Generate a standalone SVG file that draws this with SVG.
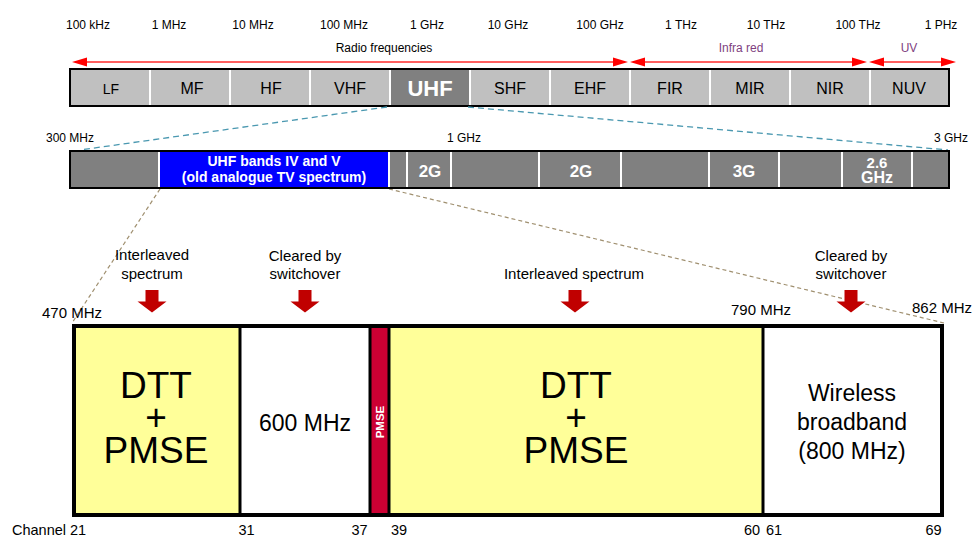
<svg xmlns="http://www.w3.org/2000/svg" width="974" height="538" viewBox="0 0 974 538">
<style>
text{font-family:"Liberation Sans",Arial,sans-serif;fill:#000}
.f{font-size:12px;text-anchor:middle}
.b{font-size:16px;text-anchor:middle}
.w{fill:#fff;font-weight:bold;text-anchor:middle}
.lbl{font-size:15px;text-anchor:middle}
.ch{font-size:14.5px}
.big{font-size:37px;text-anchor:middle}
.mid{font-size:23px;text-anchor:middle}
.cell{fill:#c0c0c0}
.div{stroke:#fff;stroke-width:2}
.rl{stroke:#ff6060;stroke-width:2}
.rh{fill:#ff0000}
.dn{fill:#c00000}
.bd{stroke:#000;stroke-width:3}
</style>
<defs>
<polygon id="dnarrow" points="-6.5,0 6.5,0 6.5,11.5 14.5,11.5 0,22.5 -14.5,11.5 -6.5,11.5" class="dn"/>
</defs>

<g id="freq-scale">
<text class="f" x="88" y="29">100 kHz</text>
<text class="f" x="169" y="29">1 MHz</text>
<text class="f" x="253" y="29">10 MHz</text>
<text class="f" x="344" y="29">100 MHz</text>
<text class="f" x="427" y="29">1 GHz</text>
<text class="f" x="508" y="29">10 GHz</text>
<text class="f" x="600" y="29">100 GHz</text>
<text class="f" x="681" y="29">1 THz</text>
<text class="f" x="766" y="29">10 THz</text>
<text class="f" x="858" y="29">100 THz</text>
<text class="f" x="941" y="29">1 PHz</text>
</g>

<g id="range-arrows">
<text class="f" x="384" y="52">Radio frequencies</text>
<text class="f" x="741" y="52" style="fill:#7f3f7f">Infra red</text>
<text class="f" x="909" y="52" style="fill:#7f3f7f">UV</text>
<line class="rl" x1="80" y1="62" x2="620" y2="62"/>
<polygon class="rh" points="72,62 87,57.5 87,66.5"/>
<polygon class="rh" points="628,62 613,57.5 613,66.5"/>
<line class="rl" x1="640" y1="62" x2="858" y2="62"/>
<polygon class="rh" points="630,62 645,57.5 645,66.5"/>
<polygon class="rh" points="867,62 852,57.5 852,66.5"/>
<line class="rl" x1="878" y1="62" x2="946" y2="62"/>
<polygon class="rh" points="869,62 884,57.5 884,66.5"/>
<polygon class="rh" points="956,62 941,57.5 941,66.5"/>
</g>

<g id="spectrum-bar">
<rect class="cell" x="70" y="69" width="879" height="37"/>
<rect x="390" y="69" width="80" height="37" fill="#808080"/>
<g class="div">
<line x1="150" y1="70" x2="150" y2="105"/><line x1="230" y1="70" x2="230" y2="105"/>
<line x1="310" y1="70" x2="310" y2="105"/><line x1="390" y1="70" x2="390" y2="105"/>
<line x1="470" y1="70" x2="470" y2="105"/><line x1="550" y1="70" x2="550" y2="105"/>
<line x1="630" y1="70" x2="630" y2="105"/><line x1="710" y1="70" x2="710" y2="105"/>
<line x1="790" y1="70" x2="790" y2="105"/><line x1="870" y1="70" x2="870" y2="105"/>
</g>
<rect x="70" y="69" width="879" height="37" fill="none" stroke="#000" stroke-width="2"/>
<text class="b" x="111" y="94" style="font-size:14px">LF</text>
<text class="b" x="192" y="94">MF</text>
<text class="b" x="271" y="94">HF</text>
<text class="b" x="350" y="94">VHF</text>
<text class="w" x="430" y="96" style="font-size:22px">UHF</text>
<text class="b" x="510" y="94">SHF</text>
<text class="b" x="590" y="94">EHF</text>
<text class="b" x="670" y="94">FIR</text>
<text class="b" x="750" y="94">MIR</text>
<text class="b" x="830" y="94">NIR</text>
<text class="b" x="909" y="94">NUV</text>
</g>

<g id="connectors" fill="none" stroke-dasharray="6,4">
<line x1="387" y1="107" x2="80" y2="150" stroke="#4a98b0" stroke-width="1.3"/>
<line x1="468" y1="107" x2="948" y2="150" stroke="#4a98b0" stroke-width="1.3"/>
<line x1="160" y1="189" x2="72" y2="323" stroke="#a09070" stroke-width="1.2" stroke-dasharray="4,3"/>
<line x1="389" y1="189" x2="944" y2="323" stroke="#a09070" stroke-width="1.2" stroke-dasharray="4,3"/>
</g>

<g id="uhf-bar">
<text class="f" x="70" y="142">300 MHz</text>
<text class="f" x="464" y="142">1 GHz</text>
<text class="f" x="951" y="142">3 GHz</text>
<rect x="70" y="151" width="879" height="37" fill="#808080"/>
<rect x="160" y="152" width="229" height="35" fill="#0000ff"/>
<g class="div">
<line x1="159" y1="152" x2="159" y2="187"/><line x1="389" y1="152" x2="389" y2="187"/>
<line x1="407" y1="152" x2="407" y2="187"/><line x1="451" y1="152" x2="451" y2="187"/>
<line x1="539" y1="152" x2="539" y2="187"/><line x1="621" y1="152" x2="621" y2="187"/>
<line x1="709" y1="152" x2="709" y2="187"/><line x1="779" y1="152" x2="779" y2="187"/>
<line x1="842" y1="152" x2="842" y2="187"/><line x1="912" y1="152" x2="912" y2="187"/>
</g>
<rect x="70" y="151" width="879" height="37" fill="none" stroke="#000" stroke-width="2"/>
<text class="w" x="274" y="166" style="font-size:14px">UHF bands IV and V</text>
<text class="w" x="274" y="182" style="font-size:14px">(old analogue TV spectrum)</text>
<text class="w" x="430" y="177" style="font-size:17px">2G</text>
<text class="w" x="581" y="177" style="font-size:17px">2G</text>
<text class="w" x="744" y="177" style="font-size:17px">3G</text>
<text class="w" x="877" y="168" style="font-size:15px">2.6</text>
<text class="w" x="877" y="183" style="font-size:16px">GHz</text>
</g>

<g id="annotations">
<text class="lbl" x="152" y="260">Interleaved</text>
<text class="lbl" x="152" y="279">spectrum</text>
<use href="#dnarrow" x="152" y="290"/>
<text class="lbl" x="305" y="261">Cleared by</text>
<text class="lbl" x="305" y="279">switchover</text>
<use href="#dnarrow" x="305" y="290"/>
<text class="lbl" x="574" y="279">Interleaved spectrum</text>
<use href="#dnarrow" x="575" y="290"/>
<text class="lbl" x="851" y="261">Cleared by</text>
<text class="lbl" x="851" y="279">switchover</text>
<use href="#dnarrow" x="851" y="290"/>
<text class="lbl" x="72" y="318">470 MHz</text>
<text class="lbl" x="761" y="315">790 MHz</text>
<text class="lbl" x="942" y="313">862 MHz</text>
</g>

<g id="channel-plan">
<rect x="74" y="326" width="166" height="189" fill="#ffff99"/>
<rect x="240" y="326" width="130" height="189" fill="#fff"/>
<rect x="370" y="326" width="19" height="189" fill="#cc0033"/>
<rect x="389" y="326" width="374" height="189" fill="#ffff99"/>
<rect x="763" y="326" width="179" height="189" fill="#fff"/>
<line class="bd" x1="240" y1="326" x2="240" y2="515"/>
<line class="bd" x1="370" y1="326" x2="370" y2="515"/>
<line class="bd" x1="389" y1="326" x2="389" y2="515"/>
<line class="bd" x1="763" y1="326" x2="763" y2="515"/>
<rect x="74" y="326" width="868" height="189" fill="none" stroke="#000" stroke-width="4"/>
<text class="big"><tspan x="156" y="398">DTT</tspan><tspan x="156" y="430">+</tspan><tspan x="156" y="463">PMSE</tspan></text>
<text class="mid" x="305" y="431">600 MHz</text>
<text class="w" style="font-size:11.5px" transform="translate(384,422) rotate(-90)">PMSE</text>
<text class="big"><tspan x="576" y="398">DTT</tspan><tspan x="576" y="430">+</tspan><tspan x="576" y="463">PMSE</tspan></text>
<text class="mid"><tspan x="852" y="401">Wireless</tspan><tspan x="852" y="430">broadband</tspan><tspan x="852" y="459">(800 MHz)</tspan></text>
</g>

<g id="channels">
<text class="ch" x="12" y="535">Channel 21</text>
<text class="ch" x="246.5" y="535" text-anchor="middle">31</text>
<text class="ch" x="359.5" y="535" text-anchor="middle">37</text>
<text class="ch" x="399" y="535" text-anchor="middle">39</text>
<text class="ch" x="752" y="535" text-anchor="middle">60</text>
<text class="ch" x="774" y="535" text-anchor="middle">61</text>
<text class="ch" x="933.5" y="535" text-anchor="middle">69</text>
</g>
</svg>
